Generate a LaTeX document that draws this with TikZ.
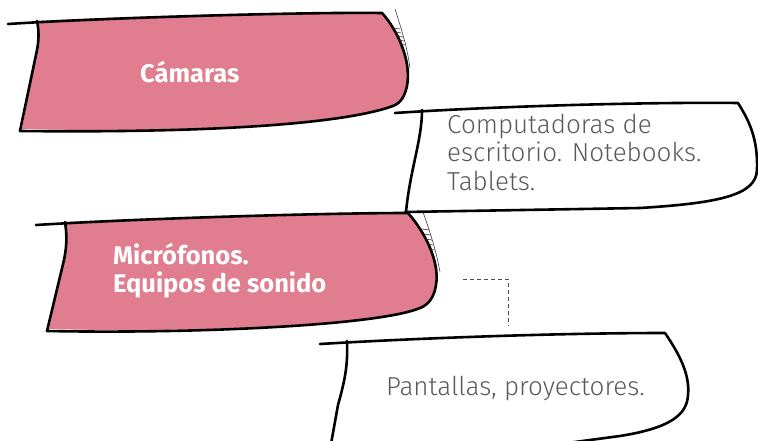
\documentclass[tikz,border=0pt]{standalone}
\usepackage{fontspec}
\setmainfont{Fira Sans}
\newfontfamily\lightf{Fira Sans Light}
\definecolor{pinkc}{RGB}{224,125,142}
\definecolor{txtgray}{RGB}{90,90,90}
\tikzset{
  outline/.style={line width=2.6pt, line cap=round, line join=round},
  sketchthin/.style={line width=0.6pt, draw=black!75, line cap=round},
  hatch/.style={line width=0.6pt, draw=black!80},
  boldtxt/.style={font=\bfseries\fontsize{25.5}{28}\selectfont, text=white, inner sep=0pt, anchor=base west, align=left},
  lighttxt/.style={font=\lightf\fontsize{26}{28.5}\selectfont, text=txtgray, inner sep=0pt, anchor=base west, align=left},
  connector/.style={dashed, line width=1pt, draw=black!70, dash pattern=on 4pt off 3pt}
}
\begin{document}
\begin{tikzpicture}[x=1pt,y=-1pt]
\useasboundingbox (0,0) rectangle (758,441);

% ---------- Shape 1: Camaras ----------
\fill[pinkc] (37,21) .. controls (150,15) and (300,12) .. (382,13)
  .. controls (396,28) and (412,60) .. (407,86)
  .. controls (404,100) and (398,104) .. (393,106)
  .. controls (340,125) and (200,133) .. (22,129)
  -- (37,50) .. controls (39,40) and (39,30) .. (37,21) -- cycle;
\draw[outline] (8,24) .. controls (100,18) and (300,12) .. (382,13)
  .. controls (396,28) and (412,60) .. (407,86)
  .. controls (404,100) and (398,104) .. (393,106)
  .. controls (340,125) and (200,133) .. (20,131);
\draw[outline] (37,21) .. controls (39,30) and (39,40) .. (37,50) -- (20,131);
\draw[sketchthin] (395,9) .. controls (400,25) and (407,45) .. (410,68);
\foreach \k in {0,...,4}
  \draw[hatch] (393+1.6*\k,28+4*\k) -- (400+1.4*\k,29+4*\k);
\node[boldtxt] (cam) at (140,83) {Cámaras};

% ---------- Shape 2: Computadoras ----------
\draw[outline] (395,113) .. controls (500,106) and (650,102) .. (738,103)
  .. controls (750,122) and (758,140) .. (757,170)
  .. controls (756,195) and (720,203) .. (640,208)
  -- (405,212);
\draw[outline] (422,110) .. controls (422,140) and (410,170) .. (406,212);
\node[lighttxt] (comp) at (447,190) {Computadoras de\\escritorio. Notebooks.\\Tablets.};

% ---------- Shape 3: Microfonos ----------
\fill[pinkc] (65,222) .. controls (200,216) and (330,213) .. (408,213)
  .. controls (425,232) and (440,262) .. (436,285)
  .. controls (434,298) and (428,305) .. (420,308)
  .. controls (380,325) and (200,333) .. (49,329)
  -- (64,260) .. controls (67,245) and (67,235) .. (65,222) -- cycle;
\draw[outline] (36,225) .. controls (150,218) and (330,213) .. (408,213)
  .. controls (425,232) and (440,262) .. (436,285)
  .. controls (434,298) and (428,305) .. (420,308)
  .. controls (380,325) and (200,334) .. (47,331);
\draw[outline] (65,222) .. controls (67,235) and (67,245) .. (64,260) -- (47,331);
\draw[sketchthin] (423,212) .. controls (430,232) and (436,250) .. (440,272);
\foreach \k in {0,...,4}
  \draw[hatch] (422+1.6*\k,229+5*\k) -- (429+1.4*\k,230+5*\k);
\node[boldtxt] (mic) at (113,292) {Micrófonos.\\Equipos de sonido};

% ---------- Shape 4: Pantallas ----------
\draw[outline] (320,344) .. controls (420,338) and (560,333) .. (665,333)
  .. controls (680,355) and (690,375) .. (688,395)
  .. controls (687,415) and (670,428) .. (620,436)
  -- (560,444);
\draw[outline] (347,341) .. controls (348,365) and (345,380) .. (338,405) -- (331,444);
\node[lighttxt] (pan) at (386,395) {Pantallas, proyectores.};

% ---------- dashed connector ----------
\coordinate (dA) at (463,279);
\coordinate (dB) at (508,326);
\draw[connector] (dA) -| (dB);
\end{tikzpicture}
\end{document}
